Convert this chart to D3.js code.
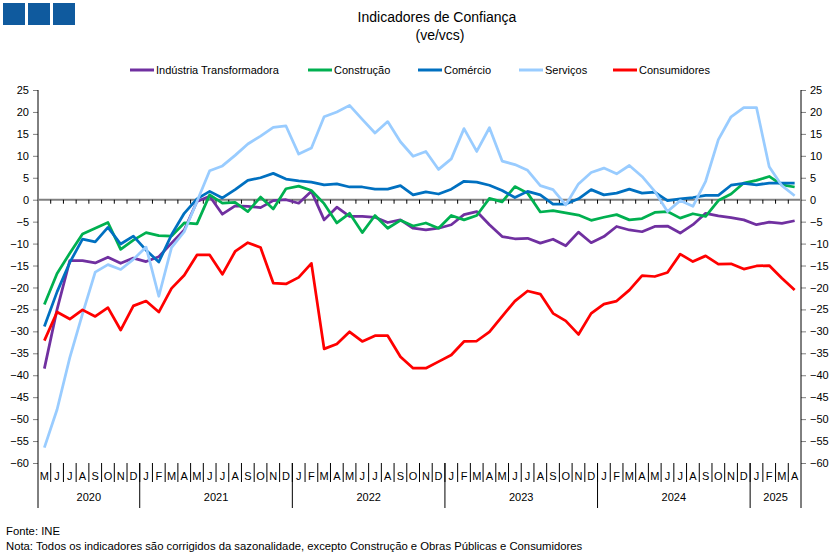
<!DOCTYPE html>
<html>
<head>
<meta charset="utf-8">
<script src="https://cdn.jsdelivr.net/npm/d3@7"></script>
<style>
  body { margin: 0; background: #fff; }
  text { font-family: "Liberation Sans", Arial, sans-serif; fill: #000; }
</style>
</head>
<body>
<svg id="chart" width="839" height="559"></svg>
<script>
// Monthly confidence indicators, May 2020 - April 2025
const meses = ["J", "F", "M", "A", "M", "J", "J", "A", "S", "O", "N", "D"];
const anos = ["2020", "2021", "2022", "2023", "2024", "2025"];
const mesesPorAno = [8, 12, 12, 12, 12, 4];
const yTicks = d3.range(-60, 26, 5);

const industria = [-38.5, -25, -13.9, -13.9, -14.4, -13.1, -14.5, -13.3, -14.1, -13.0,
  -9.9, -6.9, -0.4, 0.8, -3.3, -1.4, -1.5, -1.8, -0.2, 0.0,
  -0.8, 1.9, -4.6, -1.7, -3.8, -3.8, -4.0, -5.2, -4.6, -6.5,
  -6.9, -6.5, -5.7, -3.4, -2.7, -5.7, -8.4, -8.9, -8.8, -9.9,
  -9.0, -10.5, -7.4, -9.8, -8.4, -6.1, -6.9, -7.3, -6.1, -6.0,
  -7.6, -5.7, -3.1, -3.7, -4.1, -4.6, -5.7, -5.1, -5.4, -4.8];
const construcao = [-23.9, -16.8, -12.2, -7.8, -6.5, -5.2, -11.3, -9.2, -7.5, -8.2,
  -8.3, -5.3, -5.5, 1.1, -0.8, -0.6, -2.7, 0.6, -2.1, 2.5,
  3.1, 2.1, -0.9, -5.3, -3.1, -7.5, -3.6, -6.5, -4.7, -6.0,
  -5.3, -6.5, -3.6, -4.6, -3.6, 0.3, -0.5, 3.0, 1.5, -2.8,
  -2.5, -3.0, -3.5, -4.7, -4.0, -3.4, -4.6, -4.3, -2.9, -2.7,
  -4.2, -3.2, -3.8, -0.2, 1.3, 3.8, 4.4, 5.3, 3.4, 2.9];
const comercio = [-28.9, -21.0, -14.3, -9.0, -9.6, -6.3, -10.1, -8.3, -11.5, -14.2,
  -8.0, -3.1, 0.2, 1.9, 0.4, 2.3, 4.4, 5.0, 6.0, 4.7,
  4.3, 4.0, 3.4, 3.6, 2.9, 2.9, 2.4, 2.4, 3.2, 1.1,
  1.8, 1.3, 2.4, 4.2, 4.0, 3.3, 2.1, 0.5, 1.9, 1.1,
  -1.0, -1.0, 0.2, 2.3, 1.1, 1.5, 2.4, 1.5, 1.7, -0.2,
  0.2, 0.5, 1.0, 1.0, 3.3, 3.7, 3.4, 3.8, 3.8, 3.8];
const servicos = [-56.5, -47.8, -36.0, -26.0, -16.5, -14.8, -15.9, -13.6, -10.8, -22.0,
  -10.9, -7.3, -0.4, 6.6, 7.7, 10.1, 12.7, 14.5, 16.5, 16.8,
  10.4, 11.8, 18.9, 20.0, 21.5, 18.3, 15.2, 17.8, 13.2, 9.9,
  11.0, 6.9, 9.3, 16.2, 11.0, 16.4, 8.8, 8.0, 6.7, 3.2,
  2.3, -1.2, 3.6, 6.2, 7.2, 5.9, 7.8, 5.3, 1.9, -2.7,
  -0.2, -1.5, 4.2, 13.7, 18.9, 21.0, 21.0, 7.5, 3.2, 0.9];
const consumidores = [-32.1, -25.6, -27.2, -25.1, -26.6, -24.6, -29.7, -24.2, -23.1, -25.6,
  -20.2, -17.2, -12.6, -12.6, -17.0, -11.8, -9.8, -10.9, -19.0, -19.2,
  -17.7, -14.5, -34.0, -32.9, -30.1, -32.3, -31.0, -31.0, -35.8, -38.4,
  -38.4, -36.9, -35.4, -32.3, -32.2, -30.1, -26.6, -23.1, -20.8, -21.5,
  -25.9, -27.6, -30.7, -25.9, -23.8, -23.1, -20.6, -17.3, -17.5, -16.6,
  -12.4, -14.1, -12.8, -14.7, -14.6, -15.8, -15.1, -15.0, -17.9, -20.6];

const series = [
  { nome: "Indústria Transformadora", cor: "#7030A0", valores: industria, lx: 130 },
  { nome: "Construção", cor: "#00B050", valores: construcao, lx: 308 },
  { nome: "Comércio", cor: "#0070C0", valores: comercio, lx: 418 },
  { nome: "Serviços", cor: "#99CCFF", valores: servicos, lx: 519 },
  { nome: "Consumidores", cor: "#FF0000", valores: consumidores, lx: 613 }
];

// month letters, starting in May 2020
const rotulos = [];
mesesPorAno.forEach((n, k) => {
  const inicio = k === 0 ? 12 - n : 0;
  for (let m = inicio; m < inicio + n; m++) rotulos.push(meses[m]);
});

const svg = d3.select("#chart");
const plotLeft = 38, plotRight = 801, plotTop = 90, plotBottom = 463;

const x = d3.scaleBand().domain(d3.range(rotulos.length)).range([plotLeft, plotRight]);
const y = d3.scaleLinear().domain([-60, 25]).range([plotBottom, plotTop]);

// logo
svg.selectAll(".logo")
  .data([0, 1, 2])
  .join("rect")
  .attr("x", d => 3 + d * 25)
  .attr("y", 3)
  .attr("width", 22)
  .attr("height", 22)
  .attr("fill", "#0F5A9E");

// title
svg.append("text").attr("x", 437).attr("y", 22).attr("text-anchor", "middle")
  .style("font-size", "14px").text("Indicadores de Confiança");
svg.append("text").attr("x", 440).attr("y", 40).attr("text-anchor", "middle")
  .style("font-size", "14px").text("(ve/vcs)");

// legend
const leg = svg.selectAll(".leg").data(series).join("g")
  .attr("transform", d => `translate(${d.lx}, 70)`);
leg.append("line").attr("x1", 0).attr("x2", 24)
  .attr("stroke", d => d.cor).attr("stroke-width", 3);
leg.append("text").attr("x", 26).attr("y", 4).style("font-size", "11px").text(d => d.nome);

// y axes both sides
const yl = svg.append("g").attr("transform", `translate(${plotLeft},0)`)
  .call(d3.axisLeft(y).tickValues(yTicks).tickSize(5).tickPadding(4));
const yr = svg.append("g").attr("transform", `translate(${plotRight},0)`)
  .call(d3.axisRight(y).tickValues(yTicks).tickSize(5).tickPadding(4));
[yl, yr].forEach(g => {
  g.select(".domain").remove();
  g.selectAll("line").attr("stroke", "#808080");
  g.selectAll("text").style("font-size", "11px").style("font-family", "Liberation Sans, Arial, sans-serif");
});

// vertical axis lines, down to the year row
svg.append("line").attr("x1", plotLeft).attr("x2", plotLeft).attr("y1", plotTop).attr("y2", 508).attr("stroke", "#000");
svg.append("line").attr("x1", plotRight).attr("x2", plotRight).attr("y1", plotTop).attr("y2", 508).attr("stroke", "#000");

// zero line with month ticks
svg.append("line").attr("x1", plotLeft).attr("x2", plotRight)
  .attr("y1", y(0)).attr("y2", y(0)).attr("stroke", "#808080").attr("stroke-width", 2);
svg.selectAll(".tick0").data(d3.range(1, rotulos.length)).join("line")
  .attr("x1", d => x(d)).attr("x2", d => x(d))
  .attr("y1", y(0)).attr("y2", y(0) + 4)
  .attr("stroke", "#000");

// category labels
svg.selectAll(".mes").data(rotulos).join("text")
  .attr("x", (d, i) => x(i) + x.bandwidth() / 2)
  .attr("y", plotBottom + 17)
  .attr("text-anchor", "middle")
  .style("font-size", "11px")
  .text(d => d);
svg.selectAll(".sep").data(d3.range(1, rotulos.length)).join("line")
  .attr("x1", d => x(d)).attr("x2", d => x(d))
  .attr("y1", plotBottom).attr("y2", plotBottom + 19)
  .attr("stroke", "#000");

// years
const fimAno = d3.cumsum(mesesPorAno);
svg.selectAll(".ano").data(anos).join("text")
  .attr("x", (d, k) => {
    const a = k === 0 ? 0 : fimAno[k - 1];
    return (x(a) + x(fimAno[k] - 1) + x.bandwidth()) / 2;
  })
  .attr("y", plotBottom + 38)
  .attr("text-anchor", "middle")
  .style("font-size", "11px")
  .text(d => d);
svg.selectAll(".sepAno").data(fimAno.slice(0, -1)).join("line")
  .attr("x1", d => x(d)).attr("x2", d => x(d))
  .attr("y1", plotBottom).attr("y2", 508)
  .attr("stroke", "#000");

// lines
const line = d3.line()
  .x((d, i) => x(i) + x.bandwidth() / 2)
  .y(d => y(d));

svg.selectAll(".serie").data(series).join("path")
  .attr("fill", "none")
  .attr("stroke", d => d.cor)
  .attr("stroke-width", 2.75)
  .attr("stroke-linejoin", "round")
  .attr("d", d => line(d.valores));

// footer
svg.append("text").attr("x", 6).attr("y", 535).style("font-size", "11.3px").text("Fonte: INE");
svg.append("text").attr("x", 6).attr("y", 550).style("font-size", "11.3px")
  .text("Nota: Todos os indicadores são corrigidos da sazonalidade, excepto Construção e Obras Públicas e Consumidores");
</script>
</body>
</html>
